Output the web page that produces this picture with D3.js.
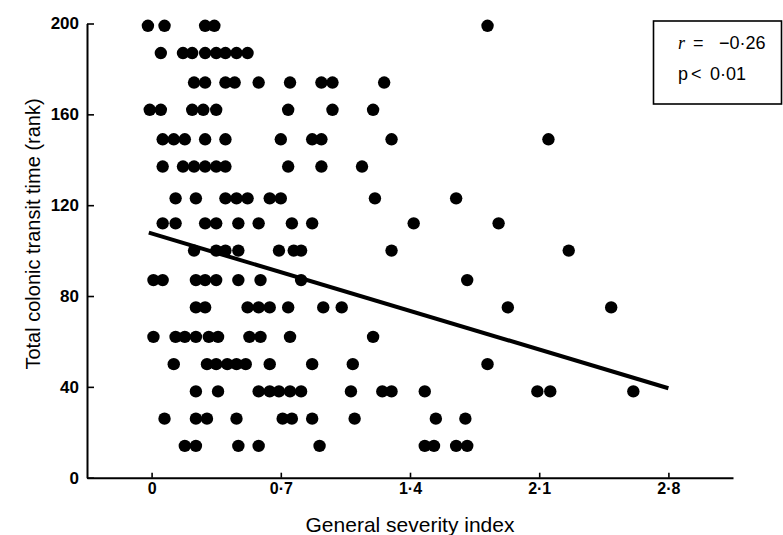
<!DOCTYPE html>
<html>
<head>
<meta charset="utf-8">
<script src="https://cdn.jsdelivr.net/npm/d3@7/dist/d3.min.js"></script>
<style>
	html, body { margin: 0; padding: 0; background: #fff; }
	svg { display: block; }
	text { font-family: "Liberation Sans", Arial, Helvetica, sans-serif; fill: #000; }
</style>
</head>
<body>
<div id="chart"></div>
<script>
// rank levels (rows of dots) and the severity index of each dot in that row
var rankLevels = [199, 187, 174, 162, 149, 137, 123, 112, 100, 87, 75, 62, 50, 38, 26, 14];
var severityByRank = [
	[-0.02, 0.07, 0.29, 0.34, 1.82],
	[0.05, 0.17, 0.22, 0.29, 0.35, 0.40, 0.46, 0.52],
	[0.23, 0.29, 0.40, 0.45, 0.58, 0.75, 0.92, 0.98, 1.26],
	[-0.01, 0.05, 0.22, 0.28, 0.35, 0.74, 0.98, 1.20],
	[0.06, 0.12, 0.18, 0.29, 0.40, 0.70, 0.87, 0.92, 1.30, 2.15],
	[0.06, 0.17, 0.23, 0.29, 0.35, 0.40, 0.74, 0.92, 1.14],
	[0.13, 0.24, 0.40, 0.46, 0.52, 0.64, 0.70, 1.21, 1.65],
	[0.06, 0.13, 0.29, 0.35, 0.47, 0.58, 0.76, 0.87, 1.42, 1.88],
	[0.23, 0.35, 0.40, 0.47, 0.69, 0.77, 0.81, 1.30, 2.26],
	[0.01, 0.06, 0.24, 0.29, 0.35, 0.47, 0.59, 0.81, 1.71],
	[0.24, 0.29, 0.52, 0.58, 0.64, 0.74, 0.93, 1.03, 1.93, 2.49],
	[0.01, 0.13, 0.18, 0.24, 0.31, 0.36, 0.53, 0.59, 0.75, 1.20],
	[0.12, 0.30, 0.35, 0.41, 0.46, 0.51, 0.64, 0.87, 1.09, 1.82],
	[0.24, 0.36, 0.58, 0.64, 0.69, 0.75, 0.81, 1.08, 1.25, 1.30, 1.48, 2.09, 2.16, 2.61],
	[0.07, 0.24, 0.30, 0.46, 0.71, 0.76, 0.87, 1.10, 1.54, 1.70],
	[0.18, 0.24, 0.47, 0.58, 0.91, 1.48, 1.53, 1.65, 1.71]
];
// regression line end points
var trendX = [-0.015, 2.8];
var trendY = [107.9, 39.4];

var xTicks = [0, 0.7, 1.4, 2.1, 2.8];
var yTicks = [0, 40, 80, 120, 160, 200];
var statLines = ["r", "p"];

var width = 783, height = 535;

var svg = d3.select("#chart").append("svg")
	.attr("width", width)
	.attr("height", height);

var x = d3.scaleLinear().domain([-0.35, 3.15]).range([87, 733]);
var y = d3.scaleLinear().domain([0, 200]).range([477.7, 23.5]);

var points = [];
rankLevels.forEach(function(rank, i){
	severityByRank[i].forEach(function(sev){
		points.push({ x: sev, y: rank });
	});
});

// axes
var fmt = function(d){ return d === 0 ? "0" : d.toFixed(1).replace(".", "\u00b7"); };

var gx = svg.append("g")
	.attr("transform", "translate(0," + y(0) + ")")
	.call(d3.axisBottom(x).tickValues(xTicks).tickFormat(fmt).tickSize(-5).tickSizeOuter(0).tickPadding(5));
gx.selectAll("text").attr("font-size", 16).attr("font-weight", "bold").style("font-family", null);

var gy = svg.append("g")
	.attr("transform", "translate(" + x(-0.35) + ",0)")
	.call(d3.axisLeft(y).tickValues(yTicks).tickSize(-7).tickSizeOuter(0).tickPadding(8));
gy.selectAll("text").attr("font-size", 17).attr("font-weight", "bold").style("font-family", null);

svg.selectAll(".domain, .tick line").attr("stroke", "#000").attr("stroke-width", 2);
svg.selectAll(".tick line").attr("stroke-width", 1.6);

// axis titles
svg.append("text")
	.attr("x", 410).attr("y", 532)
	.attr("text-anchor", "middle")
	.attr("font-size", 21)
	.text("General severity index");

svg.append("text")
	.attr("transform", "translate(40,234) rotate(-90)")
	.attr("text-anchor", "middle")
	.attr("font-size", 20)
	.text("Total colonic transit time (rank)");

// dots
svg.append("g").selectAll("circle")
	.data(points)
	.enter().append("circle")
	.attr("cx", function(d){ return x(d.x); })
	.attr("cy", function(d){ return y(d.y); })
	.attr("r", 6.2)
	.attr("fill", "#000");

// regression line
svg.append("line")
	.attr("x1", x(trendX[0])).attr("y1", y(trendY[0]))
	.attr("x2", x(trendX[1])).attr("y2", y(trendY[1]))
	.attr("stroke", "#000")
	.attr("stroke-width", 4);

// statistics box
svg.append("rect")
	.attr("x", 653.5).attr("y", 21)
	.attr("width", 128).attr("height", 83)
	.attr("fill", "#fff")
	.attr("stroke", "#000")
	.attr("stroke-width", 1.6);

var r = svg.append("text").attr("x", 678).attr("y", 49).attr("font-size", 18);
r.append("tspan").attr("font-style", "italic").style("font-family", "'Liberation Serif', serif").text("r");
r.append("tspan").attr("x", 693).text("=");
r.append("tspan").attr("x", 719).text("\u22120\u00b726");

var p = svg.append("text").attr("x", 678).attr("y", 80).attr("font-size", 18);
p.append("tspan").text("p");
p.append("tspan").attr("x", 691).text("<");
p.append("tspan").attr("x", 710).text("0\u00b701");
</script>
</body>
</html>
